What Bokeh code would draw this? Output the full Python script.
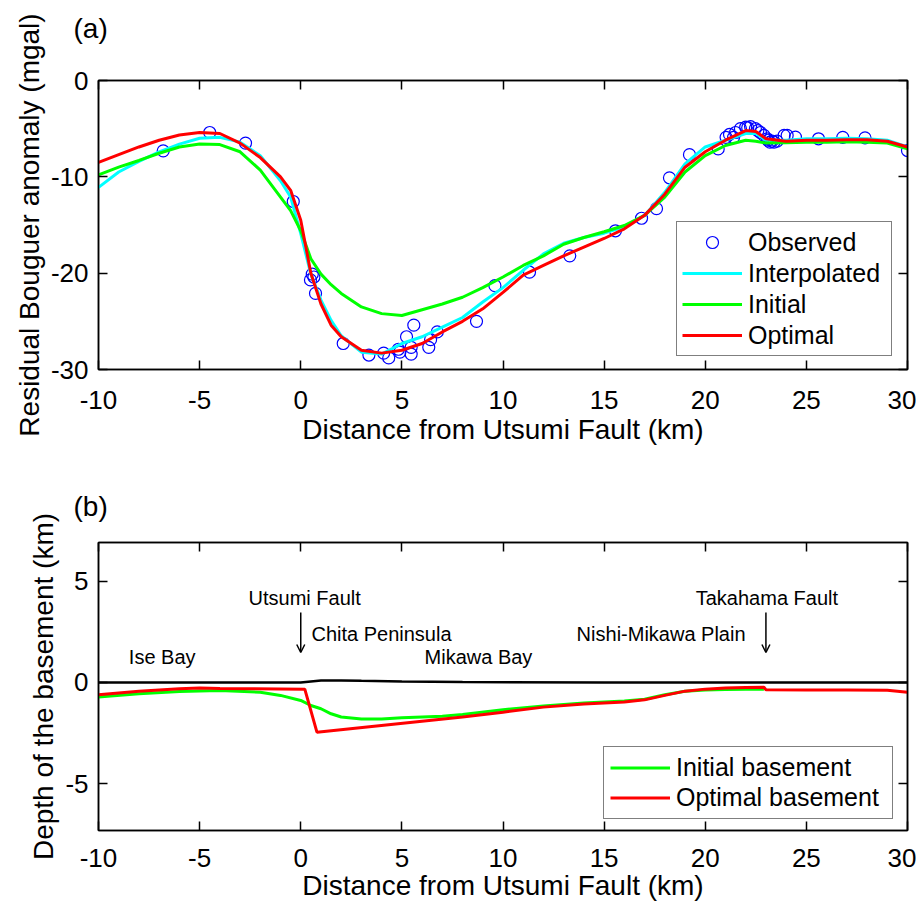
from bokeh.plotting import figure
from bokeh.models import (Range1d, LinearAxis, Legend, LegendItem, Label, Arrow,
                          OpenHead, FixedTicker)
from bokeh.layouts import column
from bokeh.embed import file_html
from bokeh.resources import INLINE

FONT = "Liberation Sans"

# ---------------- Panel (a) data ----------------
obs_x = [-6.8, -4.5, -2.73, -0.37, 0.48, 0.57, 0.65, 0.73, 2.1, 3.37, 4.1, 4.35, 4.83, 4.9,
         5.23, 5.46, 5.46, 5.59, 6.33, 6.42, 6.75, 8.69, 9.6, 11.31, 13.3, 15.56, 16.85,
         17.59, 18.23, 19.22, 20.64, 21.03, 21.2, 21.4, 21.5, 21.74, 22.0, 22.1, 22.24,
         22.48, 22.6, 22.73, 22.9, 23.06, 23.1, 23.2, 23.3, 23.4, 23.55, 23.9, 24.05,
         24.46, 25.6, 26.8, 27.9, 30.0]
obs_y = [-7.3, -5.4, -6.5, -12.56, -20.7, -20.1, -20.4, -22.1, -27.3, -28.5, -28.3, -28.8,
         -27.9, -28.2, -26.6, -27.7, -28.4, -25.4, -27.7, -26.9, -26.1, -25.0, -21.3, -19.9,
         -18.2, -15.6, -14.3, -13.3, -10.1, -7.7, -7.1, -5.9, -5.6, -5.9, -5.4, -5.0, -4.85,
         -4.9, -4.78, -5.0, -5.2, -5.4, -5.7, -6.05, -6.2, -6.4, -6.3, -6.4, -6.3, -5.7,
         -5.7, -5.88, -6.05, -5.9, -5.95, -7.27]

curve_x = [-10, -9, -8, -7, -6, -5, -4, -3, -2, -1, -0.5, 0, 0.5, 1, 1.5, 2, 3, 4, 5, 6, 7,
           8, 9, 10, 11, 12, 13, 14, 15, 16, 17, 18, 19, 20, 21, 22, 22.5, 23, 24, 25, 26,
           27, 28, 29, 30]
interp_y = [-11.1, -9.5, -8.4, -7.4, -6.6, -6.0, -5.9, -6.4, -7.8, -10.4, -12.1, -15.9,
            -20.1, -22.8, -24.9, -26.5, -28.2, -28.4, -27.3, -26.6, -25.6, -24.6, -23.0,
            -21.5, -19.7, -18.0, -16.9, -16.3, -15.85, -15.2, -14.0, -11.6, -8.65, -6.9,
            -6.2, -5.5, -5.5, -6.2, -6.2, -6.05, -6.05, -6.0, -6.05, -6.2, -6.9]
initial_y = [-9.8, -9.0, -8.3, -7.55, -6.9, -6.6, -6.65, -7.4, -9.3, -12.1, -13.5, -15.6,
             -18.5, -20.1, -21.2, -22.1, -23.5, -24.2, -24.4, -23.8, -23.2, -22.5, -21.5,
             -20.4, -19.2, -18.2, -17.0, -16.3, -15.7, -15.05, -14.0, -12.1, -9.5, -7.8,
             -6.75, -6.2, -6.3, -6.5, -6.45, -6.4, -6.4, -6.35, -6.4, -6.5, -7.1]
optimal_y = [-8.5, -7.7, -6.9, -6.2, -5.65, -5.4, -5.5, -6.5, -8.0, -10.0, -11.4, -14.5,
             -20.0, -23.2, -25.4, -26.6, -28.0, -28.3, -28.0, -27.3, -26.1, -25.0, -23.7,
             -22.0, -20.2, -19.2, -18.2, -17.3, -16.4, -15.4, -14.0, -11.8, -9.0, -7.4,
             -6.2, -5.2, -5.3, -6.05, -6.3, -6.2, -6.2, -6.15, -6.15, -6.3, -6.9]

# ---------------- Panel (b) data ----------------
surface_x = [-10, -5, 0, 0.5, 1, 2, 3, 5, 8, 15, 22, 30]
surface_y = [0.0, 0.0, 0.0, 0.05, 0.1, 0.1, 0.08, 0.05, 0.02, 0.0, 0.0, 0.0]

opt_base_x = [-10, -8, -6, -5, -4, 0.2, 0.8, 8, 10, 12, 14, 16, 17, 18, 19, 20, 21, 22,
              22.9, 23.0, 25, 27, 29, 30]
opt_base_y = [-0.61, -0.43, -0.31, -0.28, -0.3, -0.33, -2.46, -1.71, -1.47, -1.22, -1.06,
              -0.97, -0.86, -0.64, -0.43, -0.33, -0.28, -0.25, -0.24, -0.36, -0.37, -0.37,
              -0.38, -0.48]
init_base_x = [-10, -8, -6, -4, -2, -1, 0, 0.5, 1, 1.5, 2, 3, 4, 5, 6, 7, 8, 10, 12, 14,
               16, 17, 18, 19, 20, 21, 22, 22.9]
init_base_y = [-0.72, -0.56, -0.45, -0.4, -0.48, -0.64, -0.89, -1.14, -1.3, -1.55, -1.71,
               -1.81, -1.81, -1.75, -1.71, -1.67, -1.58, -1.35, -1.17, -1.02, -0.92, -0.83,
               -0.61, -0.43, -0.37, -0.35, -0.33, -0.33]

x_ticks = [-10, -5, 0, 5, 10, 15, 20, 25, 30]
ya_ticks = [-30, -20, -10, 0]
yb_ticks = [-5, 0, 5]

place_labels = ["Ise Bay", "Utsumi Fault", "Chita Peninsula", "Mikawa Bay",
                "Nishi-Mikawa Plain", "Takahama Fault"]
place_x = [-8.5, -2.58, 0.53, 6.12, 13.64, 19.53]
place_y = [1.24, 4.2, 2.42, 1.24, 2.42, 4.2]
fault_x = [0, 23]

TICK_FS = "26px"
LABEL_FS = "28px"


def style_axes(p, xt, yt, xlabel, ylabel, x_standoff, x_label_standoff):
    p.xgrid.visible = False
    p.ygrid.visible = False
    p.outline_line_color = "black"
    p.outline_line_width = 1.5
    for ax, ticks, lab in ((p.xaxis[0], xt, xlabel), (p.yaxis[0], yt, ylabel)):
        ax.ticker = FixedTicker(ticks=ticks)
        ax.major_label_overrides = {t: str(t) for t in ticks}
        ax.axis_label = lab
        ax.axis_label_text_font = FONT
        ax.axis_label_text_font_size = LABEL_FS
        ax.axis_label_text_font_style = "normal"
        ax.axis_label_text_color = "black"
        ax.major_label_text_font = FONT
        ax.major_label_text_font_size = TICK_FS
        ax.major_label_text_color = "black"
        ax.major_tick_in = 9
        ax.major_tick_out = 0
        ax.minor_tick_line_color = None
        ax.axis_line_width = 1.5
        ax.major_tick_line_width = 1.5
    p.xaxis[0].major_label_standoff = x_standoff
    p.xaxis[0].axis_label_standoff = x_label_standoff
    p.yaxis[0].major_label_standoff = 10
    p.yaxis[0].axis_label_standoff = 3
    for loc, ticks in (("above", xt), ("right", yt)):
        ax = LinearAxis(ticker=FixedTicker(ticks=ticks), major_label_text_color=None,
                        major_label_text_font_size="1px",
                        major_tick_in=9, major_tick_out=0, minor_tick_line_color=None,
                        axis_line_width=1.5, major_tick_line_width=1.5,
                        major_label_standoff=0)
        p.add_layout(ax, loc)


def style_title(p, text, standoff, line_height):
    # panel tag; the trailing blank line lifts it above the frame
    p.title.text = text + "\n "
    p.title.align = "left"
    p.title.vertical_align = "bottom"
    p.title.offset = -25
    p.title.text_font = FONT
    p.title.text_font_size = "28px"
    p.title.text_font_style = "normal"
    p.title.text_color = "black"
    p.title.text_line_height = line_height
    p.title.standoff = standoff


# ---------------- Figure (a) ----------------
p1 = figure(width=916, height=458, x_range=Range1d(-10, 30),
            y_range=Range1d(-30, 0), output_backend="svg", toolbar_location=None,
            min_border_left=98, min_border_top=80, min_border_right=9,
            min_border_bottom=89)
style_axes(p1, x_ticks, ya_ticks, "Distance from Utsumi Fault (km)",
           "Residual Bouguer anomaly (mgal)", 21, 2)
style_title(p1, "(a)", 2, 1.14)

r_obs = p1.scatter(obs_x, obs_y, marker="circle", size=12, fill_color=None,
                   line_color="#0000ff", line_width=1.2)
r_int = p1.line(curve_x, interp_y, line_color="#00ffff", line_width=3)
r_ini = p1.line(curve_x, initial_y, line_color="#00ff00", line_width=3)
r_opt = p1.line(curve_x, optimal_y, line_color="#ff0000", line_width=3)

leg1 = Legend(items=[LegendItem(label="Observed", renderers=[r_obs]),
                     LegendItem(label="Interpolated", renderers=[r_int]),
                     LegendItem(label="Initial", renderers=[r_ini]),
                     LegendItem(label="Optimal", renderers=[r_opt])],
              location=(578, 13), label_text_font=FONT, label_text_font_size="25px",
              label_text_color="black", label_width=138,
              glyph_width=60, glyph_height=30, label_height=30, spacing=1, padding=5,
              margin=0, label_standoff=6, border_line_color="black",
              border_line_width=1.5)
p1.add_layout(leg1)

# ---------------- Figure (b) ----------------
p2 = figure(width=916, height=450, x_range=Range1d(-10, 30),
            y_range=Range1d(-7.32, 6.92), output_backend="svg", toolbar_location=None,
            min_border_left=98, min_border_top=84, min_border_right=9,
            min_border_bottom=78)
style_axes(p2, x_ticks, yb_ticks, "Distance from Utsumi Fault (km)",
           "Depth of the basement (km)", 18, 0)
style_title(p2, "(b)", 4, 0.6)

p2.line(surface_x, surface_y, line_color="black", line_width=2.5)
r_ib = p2.line(init_base_x, init_base_y, line_color="#00ff00", line_width=3)
r_ob = p2.line(opt_base_x, opt_base_y, line_color="#ff0000", line_width=3)

for t, xx, yy in zip(place_labels, place_x, place_y):
    p2.add_layout(Label(x=xx, y=yy, text=t, text_font=FONT, text_font_size="20px",
                        text_color="black", text_baseline="middle", text_align="left"))
for fx in fault_x:
    p2.add_layout(Arrow(x_start=fx, y_start=3.46, x_end=fx, y_end=1.48, line_width=1.5,
                        end=OpenHead(size=8, line_width=1.5)))

leg2 = Legend(items=[LegendItem(label="Initial basement", renderers=[r_ib]),
                     LegendItem(label="Optimal basement", renderers=[r_ob])],
              location=(505, 11), label_text_font=FONT, label_text_font_size="25px",
              label_text_color="black", label_width=210,
              glyph_width=60, glyph_height=27, label_height=27, spacing=1, padding=6,
              margin=0, label_standoff=6, border_line_color="black",
              border_line_width=1.5)
p2.add_layout(leg2)

layout = column(p1, p2)
open("out.html", "w").write(file_html(layout, INLINE))
